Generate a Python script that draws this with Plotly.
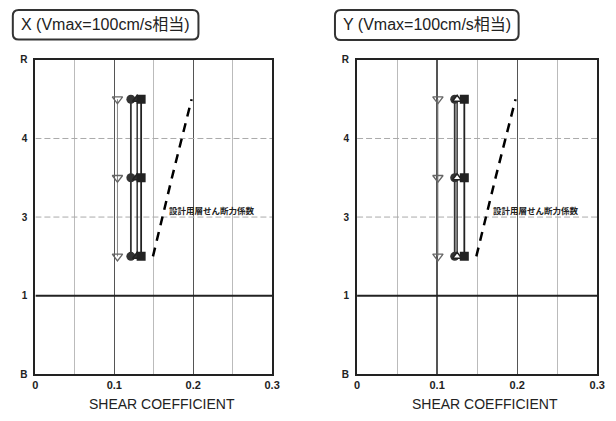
import plotly.graph_objects as go

W, H = 616, 421

# ---- data ----
levels = [1.5, 2.5, 3.5]
y_tickvals = [0, 1, 2, 3, 4]
y_ticktext = ["B", "1", "3", "4", "R"]

x_tri_down = [0.104, 0.104, 0.104]
x_circle = [0.121, 0.121, 0.121]
x_tri_up = [0.129, 0.129, 0.129]
x_square = [0.134, 0.134, 0.134]
x_design = [0.149, 0.173, 0.198]

y_tri_down = [0.101, 0.101, 0.101]
y_circle = [0.122, 0.122, 0.122]
y_tri_up = [0.125, 0.125, 0.125]
y_square = [0.134, 0.134, 0.134]
y_design = [0.149, 0.173, 0.198]

titles = ["X (Vmax=100cm/s相当)", "Y (Vmax=100cm/s相当)"]
design_label = "設計用層せん断力係数"
x_title = "SHEAR COEFFICIENT"

FONT = "Liberation Sans, Arial, sans-serif"
CJK = "Liberation Sans, Noto Sans CJK JP, sans-serif"


def px(x):
    return x / W


def py(y):
    return 1 - y / H


fig = go.Figure()

panels = [
    dict(xa="x", ya="y", data=(x_tri_down, x_circle, x_tri_up, x_square, x_design), up_fill="#333333"),
    dict(xa="x2", ya="y2", data=(y_tri_down, y_circle, y_tri_up, y_square, y_design), up_fill="white"),
]

for p in panels:
    tdown, circ, tup, sq, des = p["data"]
    fig.add_trace(go.Scatter(x=tdown, y=levels, xaxis=p["xa"], yaxis=p["ya"], mode="lines+markers",
                             line=dict(color="#888888", width=1),
                             marker=dict(symbol="triangle-down-open", size=9, color="#666666", line=dict(width=1.3))))
    fig.add_trace(go.Scatter(x=circ, y=levels, xaxis=p["xa"], yaxis=p["ya"], mode="lines+markers",
                             line=dict(color="#333333", width=1.8),
                             marker=dict(symbol="circle", size=9, color="#333333")))
    fig.add_trace(go.Scatter(x=tup, y=levels, xaxis=p["xa"], yaxis=p["ya"], mode="lines+markers",
                             line=dict(color="#333333", width=1.5),
                             marker=dict(symbol="triangle-up", size=8, color=p["up_fill"],
                                         line=dict(color="#222222", width=1.5))))
    fig.add_trace(go.Scatter(x=sq, y=levels, xaxis=p["xa"], yaxis=p["ya"], mode="lines+markers",
                             line=dict(color="#222222", width=1.8),
                             marker=dict(symbol="square", size=9, color="#222222")))
    fig.add_trace(go.Scatter(x=des, y=levels, xaxis=p["xa"], yaxis=p["ya"], mode="lines",
                             line=dict(color="black", width=2.5, dash="9px,7px")))

dom_y = [py(379), py(55.5)]
doms_x = [[px(33), px(274)], [px(360.5), px(605)]]

common_x = dict(range=[0, 0.3], dtick=0.1, tick0=0, showgrid=True, gridcolor="#555555", gridwidth=1.3,
                minor=dict(dtick=0.05, showgrid=True, gridcolor="#bbbbbb", gridwidth=1),
                showline=True, mirror=True, linecolor="#222222", linewidth=2, zeroline=False,
                ticks="", tickfont=dict(family=FONT, size=11, color="#222222", weight="bold"),
                fixedrange=True)
common_y = dict(range=[0, 4], tickvals=y_tickvals, ticktext=y_ticktext, showgrid=False,
                showline=True, mirror=True, linecolor="#222222", linewidth=2, zeroline=False,
                ticks="", ticklabelstandoff=4,
                tickfont=dict(family=FONT, size=10, color="#222222", weight="bold"), fixedrange=True)

fig.update_layout(
    width=W, height=H, margin=dict(l=0, r=0, t=0, b=0),
    paper_bgcolor="white", plot_bgcolor="white", showlegend=False,
    xaxis=dict(domain=doms_x[0], anchor="y", **common_x),
    yaxis=dict(domain=dom_y, anchor="x", **common_y),
    xaxis2=dict(domain=doms_x[1], anchor="y2", **common_x),
    yaxis2=dict(domain=dom_y, anchor="x2", **common_y),
)

shapes = []
annotations = []


def rrect(x0, y0, x1, y1, r):
    pts = [
        ("M", x0 + r, y0), ("L", x1 - r, y0), ("Q", x1, y0, x1, y0 + r),
        ("L", x1, y1 - r), ("Q", x1, y1, x1 - r, y1), ("L", x0 + r, y1),
        ("Q", x0, y1, x0, y1 - r), ("L", x0, y0 + r), ("Q", x0, y0, x0 + r, y0),
    ]
    s = ""
    for p in pts:
        if p[0] == "Q":
            s += f"Q {px(p[1]):.5f},{py(p[2]):.5f} {px(p[3]):.5f},{py(p[4]):.5f} "
        else:
            s += f"{p[0]} {px(p[1]):.5f},{py(p[2]):.5f} "
    return s + "Z"


boxes = [(10, 4, 199, 34.5), (338, 4, 525, 35)]
for (bx0, by0, bx1, by1), t in zip(boxes, titles):
    shapes.append(dict(type="path", xref="paper", yref="paper", path=rrect(bx0, by0, bx1, by1, 6),
                       line=dict(color="#333333", width=2), fillcolor="white"))
    annotations.append(dict(xref="paper", yref="paper", x=px((bx0 + bx1) / 2), y=py((by0 + by1) / 2),
                            text=t, showarrow=False, xanchor="center", yanchor="middle",
                            font=dict(family=CJK, size=16, color="#222222")))

for i, (xa, ya) in enumerate([("x", "y"), ("x2", "y2")]):
    shapes.append(dict(type="line", xref=xa, yref=ya, x0=0, x1=0.3, y0=1, y1=1, layer="between",
                       line=dict(color="#222222", width=2)))
    for yy in (2, 3):
        shapes.append(dict(type="line", xref=xa, yref=ya, x0=0, x1=0.3, y0=yy, y1=yy, layer="between",
                           line=dict(color="#aaaaaa", width=1, dash="6px,3px")))
    annotations.append(dict(xref=xa, yref=ya, x=0.167, y=2, text=design_label, showarrow=False,
                            xanchor="left", yanchor="bottom", yshift=-1,
                            font=dict(family="Noto Sans CJK JP", size=8.5, color="#222222", weight="bold")))
    cx = (doms_x[i][0] + doms_x[i][1]) / 2 + px(8)
    annotations.append(dict(xref="paper", yref="paper", x=cx, y=py(410), text=x_title, showarrow=False,
                            xanchor="center", yanchor="middle",
                            font=dict(family=FONT, size=14, color="#222222")))

fig.update_layout(shapes=shapes, annotations=annotations)

fig.write_html("out.html", config=dict(displayModeBar=False, staticPlot=True),
               post_script="document.body.style.margin='0';document.body.style.overflow='hidden';")
